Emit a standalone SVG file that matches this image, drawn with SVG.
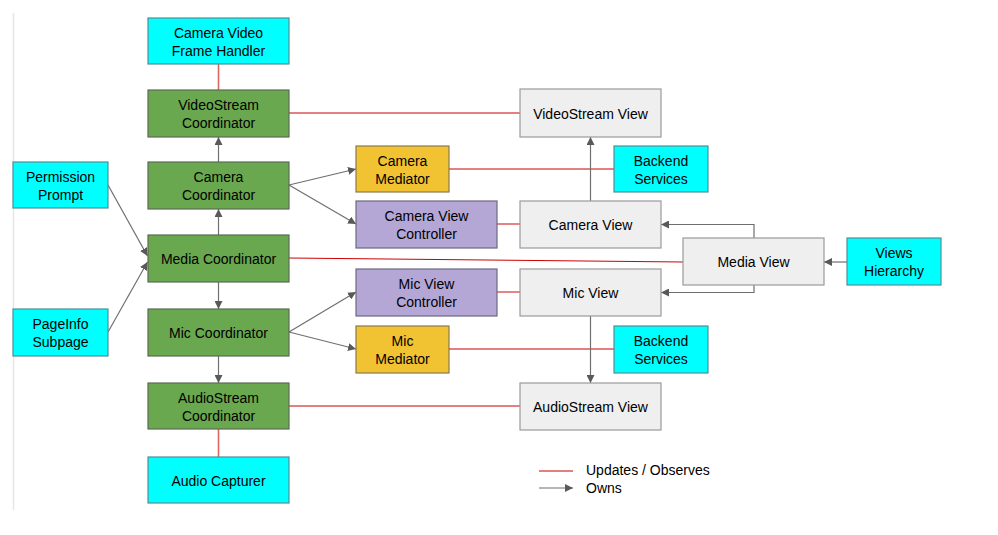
<svg xmlns="http://www.w3.org/2000/svg" width="998" height="535" viewBox="0 0 998 535">
<defs>
<marker id="arr" viewBox="0 0 10 10" refX="10" refY="5" markerWidth="8" markerHeight="8" markerUnits="userSpaceOnUse" orient="auto">
<path d="M0,0 L10,5 L0,10 Z" fill="#595959"/>
</marker>
<style>
text{font-family:"Liberation Sans",Arial,sans-serif;font-size:14px;fill:#000;text-anchor:middle}
.cyan{fill:#00ffff;stroke:#4f8f96;stroke-width:1.2}
.green{fill:#6aa84f;stroke:#5b6b55;stroke-width:1.2}
.yellow{fill:#f1c232;stroke:#8a7a4a;stroke-width:1.2}
.purple{fill:#b4a7d6;stroke:#6d6880;stroke-width:1.2}
.grey{fill:#efefef;stroke:#9a9a9a;stroke-width:1.2}
.red{stroke:#cc0000;stroke-width:1;fill:none}
.lred{stroke:#e06666;stroke-width:1.6;fill:none}
.own{stroke:#6f6f6f;stroke-width:1.2;fill:none;marker-end:url(#arr)}
</style>
</defs>
<rect width="998" height="535" fill="#ffffff"/>
<line x1="13.5" y1="13" x2="13.5" y2="510" stroke="#e6e6e6" stroke-width="1.5"/>

<g id="connectors">
<line class="lred" x1="218.5" y1="64" x2="218.5" y2="90"/>
<line class="red" x1="289" y1="113" x2="520" y2="113"/>
<line class="own" x1="218.5" y1="162" x2="218.5" y2="137"/>
<line class="own" x1="218.5" y1="235" x2="218.5" y2="209"/>
<line class="own" x1="289" y1="185" x2="356" y2="169"/>
<line class="own" x1="289" y1="185" x2="356" y2="224"/>
<line class="red" x1="449" y1="169" x2="614" y2="169"/>
<line class="lred" x1="497" y1="224" x2="520" y2="224"/>
<line class="own" x1="590.5" y1="201" x2="590.5" y2="137"/>
<line class="red" x1="289" y1="258" x2="683" y2="262"/>
<polyline class="own" points="754,238 754,224.5 661,224.5"/>
<polyline class="own" points="754,285 754,292.5 661,292.5"/>
<line class="own" x1="847" y1="262" x2="824" y2="262"/>
<line class="own" x1="108" y1="185" x2="147.5" y2="256"/>
<line class="own" x1="108" y1="332" x2="147.5" y2="262"/>
<line class="own" x1="218.5" y1="282" x2="218.5" y2="309"/>
<line class="own" x1="289" y1="332" x2="356" y2="292"/>
<line class="own" x1="289" y1="332" x2="356" y2="349"/>
<line class="lred" x1="497" y1="292" x2="520" y2="292"/>
<line class="red" x1="449" y1="349" x2="614" y2="349"/>
<line class="own" x1="590.5" y1="316" x2="590.5" y2="383"/>
<line class="own" x1="218.5" y1="356" x2="218.5" y2="383"/>
<line class="red" x1="289" y1="406" x2="520" y2="406"/>
<line class="lred" x1="218.5" y1="429" x2="218.5" y2="457"/>
</g>

<g id="camera-video-frame-handler"><rect class="cyan" x="148" y="18" width="141" height="46"/><text x="218.5" y="38">Camera Video</text><text x="218.5" y="56">Frame Handler</text></g>
<g id="videostream-coordinator"><rect class="green" x="148" y="90" width="141" height="47"/><text x="218.5" y="110">VideoStream</text><text x="218.5" y="128">Coordinator</text></g>
<g id="camera-coordinator"><rect class="green" x="148" y="162" width="141" height="47"/><text x="218.5" y="182">Camera</text><text x="218.5" y="200">Coordinator</text></g>
<g id="media-coordinator"><rect class="green" x="148" y="235" width="141" height="47"/><text x="218.5" y="264">Media Coordinator</text></g>
<g id="mic-coordinator"><rect class="green" x="148" y="309" width="141" height="47"/><text x="218.5" y="338">Mic Coordinator</text></g>
<g id="audiostream-coordinator"><rect class="green" x="148" y="383" width="141" height="46"/><text x="218.5" y="403">AudioStream</text><text x="218.5" y="421">Coordinator</text></g>
<g id="audio-capturer"><rect class="cyan" x="148" y="457" width="141" height="46"/><text x="218.5" y="486">Audio Capturer</text></g>

<g id="permission-prompt"><rect class="cyan" x="13" y="162" width="95" height="46"/><text x="60.5" y="182">Permission</text><text x="60.5" y="200">Prompt</text></g>
<g id="pageinfo-subpage"><rect class="cyan" x="13" y="309" width="95" height="47"/><text x="60.5" y="329">PageInfo</text><text x="60.5" y="347">Subpage</text></g>

<g id="camera-mediator"><rect class="yellow" x="356" y="146" width="93" height="46"/><text x="402.5" y="166">Camera</text><text x="402.5" y="184">Mediator</text></g>
<g id="camera-view-controller"><rect class="purple" x="356" y="201" width="141" height="47"/><text x="426.5" y="221">Camera View</text><text x="426.5" y="239">Controller</text></g>
<g id="mic-view-controller"><rect class="purple" x="356" y="269" width="141" height="47"/><text x="426.5" y="289">Mic View</text><text x="426.5" y="307">Controller</text></g>
<g id="mic-mediator"><rect class="yellow" x="356" y="326" width="93" height="47"/><text x="402.5" y="346">Mic</text><text x="402.5" y="364">Mediator</text></g>

<g id="videostream-view"><rect class="grey" x="520" y="89" width="141" height="48"/><text x="590.5" y="119">VideoStream View</text></g>
<g id="camera-view"><rect class="grey" x="520" y="201" width="141" height="47"/><text x="590.5" y="230">Camera View</text></g>
<g id="mic-view"><rect class="grey" x="520" y="269" width="141" height="47"/><text x="590.5" y="298">Mic View</text></g>
<g id="audiostream-view"><rect class="grey" x="520" y="383" width="141" height="47"/><text x="590.5" y="412">AudioStream View</text></g>

<g id="backend-services-camera"><rect class="cyan" x="614" y="146" width="94" height="46"/><text x="661" y="166">Backend</text><text x="661" y="184">Services</text></g>
<g id="backend-services-mic"><rect class="cyan" x="614" y="326" width="94" height="47"/><text x="661" y="346">Backend</text><text x="661" y="364">Services</text></g>

<g id="media-view"><rect class="grey" x="683" y="238" width="141" height="47"/><text x="753.5" y="267">Media View</text></g>
<g id="views-hierarchy"><rect class="cyan" x="847" y="238" width="94" height="47"/><text x="894" y="258">Views</text><text x="894" y="276">Hierarchy</text></g>

<g id="legend">
<line class="red" x1="539" y1="471" x2="573" y2="471"/>
<text x="586" y="475" style="text-anchor:start">Updates / Observes</text>
<line class="own" x1="539" y1="488" x2="573" y2="488"/>
<text x="586" y="493" style="text-anchor:start">Owns</text>
</g>
</svg>
